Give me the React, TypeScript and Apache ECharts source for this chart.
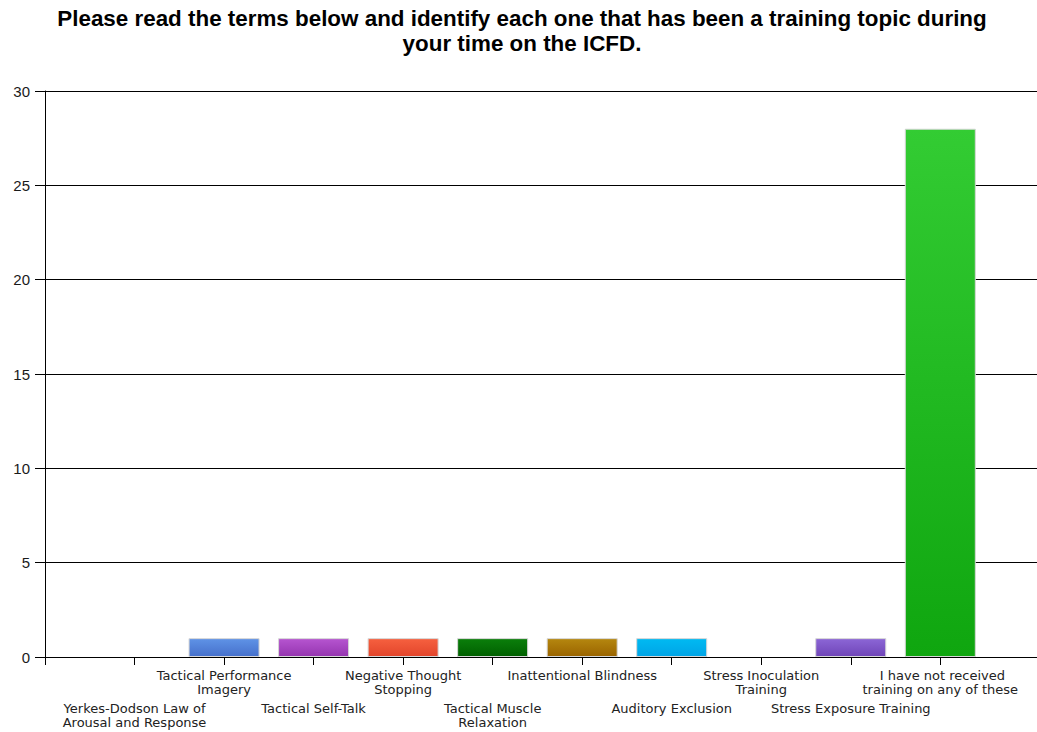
import React, { useEffect, useRef } from "react";
import * as echarts from "echarts";

const titleText =
  "Please read the terms below and identify each one that has been a training topic during\nyour time on the ICFD.";

const categories = [
  "Yerkes-Dodson Law of\nArousal and Response",
  "Tactical Performance\nImagery",
  "Tactical Self-Talk",
  "Negative Thought\nStopping",
  "Tactical Muscle\nRelaxation",
  "Inattentional Blindness",
  "Auditory Exclusion",
  "Stress Inoculation\nTraining",
  "Stress Exposure Training",
  " I have not received\ntraining on any of these",
];

const values = [0, 1, 1, 1, 1, 1, 1, 0, 1, 28];

const colorsTop = [
  "#5f93e6", "#5f93e6", "#b655d0", "#f6603f", "#0b7f0b",
  "#b5870f", "#00baf2", "#5f93e6", "#8c66d6", "#33cc33",
];
const colorsBottom = [
  "#4670cc", "#4670cc", "#9535b0", "#e2452b", "#006000",
  "#9a6400", "#00a4e6", "#4670cc", "#6f45b8", "#0fa60f",
];

const yTicks = [0, 5, 10, 15, 20, 25, 30];

export default function App() {
  const ref = useRef<HTMLDivElement>(null);
  useEffect(() => {
    if (!ref.current) return;
    const chart = echarts.init(ref.current, undefined, { renderer: "svg" });
    const positions = categories.map((_, i) => i + 1);
    const upper = positions.filter((p) => p % 2 === 0);
    const lower = positions.filter((p) => p % 2 === 1);
    const labelStyle = {
      fontFamily: "DejaVu Sans, sans-serif",
      fontSize: 13,
      lineHeight: 14,
      color: "#222",
      align: "center" as const,
    };
    const fmt = (v: number) => categories[Math.round(v) - 1] || "";
    chart.setOption({
      animation: false,
      backgroundColor: "#ffffff",
      title: {
        text: titleText,
        left: 517,
        textAlign: "center",
        top: 1,
        textStyle: {
          fontFamily: "Liberation Sans, Arial, sans-serif",
          fontWeight: "bold",
          fontSize: 22.4,
          lineHeight: 25,
          color: "#000000",
        },
      },
      grid: { left: 45, right: 0, top: 91, bottom: 75, containLabel: false },
      xAxis: [
        {
          type: "value",
          position: "bottom",
          min: 0,
          max: 11.08,
          interval: 1,
          splitLine: { show: false },
          axisLine: { show: true, onZero: false, lineStyle: { color: "#000", width: 1 } },
          axisTick: {
            show: true,
            length: 8,
            customValues: [0, ...positions],
            lineStyle: { color: "#000" },
          },
          axisLabel: {
            customValues: upper,
            showMinLabel: true,
            showMaxLabel: true,
            hideOverlap: false,
            margin: 11,
            formatter: fmt,
            ...labelStyle,
          },
        },
        {
          type: "value",
          position: "bottom",
          min: 0,
          max: 11.08,
          interval: 1,
          splitLine: { show: false },
          axisLine: { show: false, onZero: false },
          axisTick: { show: false },
          axisLabel: {
            customValues: lower,
            showMinLabel: true,
            showMaxLabel: true,
            hideOverlap: false,
            margin: 44,
            formatter: fmt,
            ...labelStyle,
          },
        },
      ],
      yAxis: {
        type: "value",
        min: yTicks[0],
        max: yTicks[yTicks.length - 1],
        interval: 5,
        axisLine: { show: true, lineStyle: { color: "#000", width: 1 } },
        axisTick: { show: true, length: 10, lineStyle: { color: "#000" } },
        axisLabel: {
          margin: 15,
          fontFamily: "Liberation Sans, Arial, sans-serif",
          fontSize: 15,
          color: "#1a1a1a",
        },
        splitLine: { show: true, lineStyle: { color: "#000", width: 1 } },
      },
      series: [
        {
          type: "bar",
          xAxisIndex: 0,
          barWidth: 71,
          data: values.map((v, i) => ({
            value: [positions[i], v],
            itemStyle: {
              color: new echarts.graphic.LinearGradient(0, 0, 0, 1, [
                { offset: 0, color: colorsTop[i] },
                { offset: 1, color: colorsBottom[i] },
              ]),
              borderColor: "#d6d6d6",
              borderWidth: v > 0 ? 1 : 0,
            },
          })),
        },
      ],
    });
    return () => chart.dispose();
  }, []);
  return (
    <div
      ref={ref}
      style={{ position: "fixed", left: 0, top: 0, width: 1037, height: 732 }}
    />
  );
}
